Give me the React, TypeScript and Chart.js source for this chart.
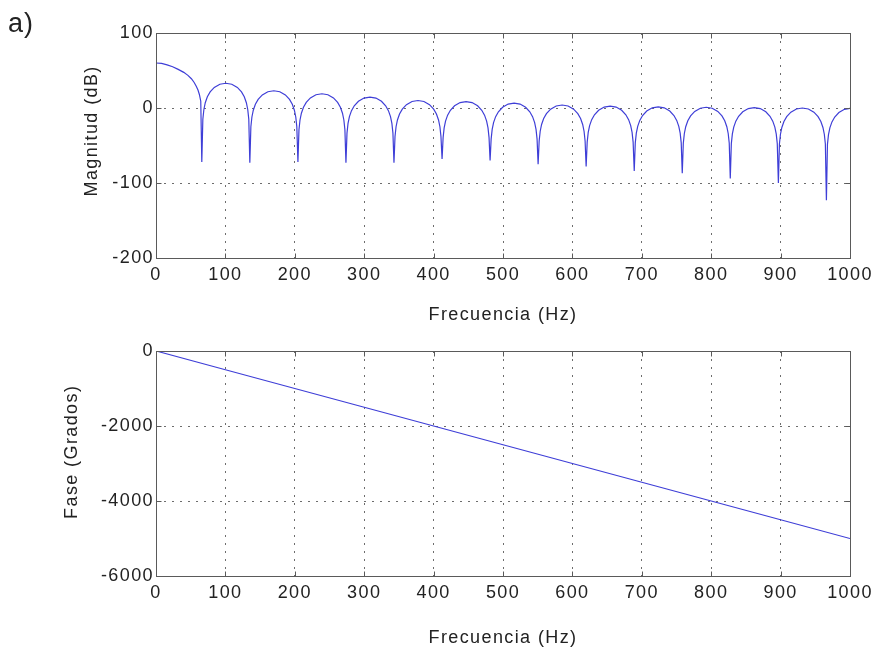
import { useEffect, useRef } from "react";
import { Chart, registerables } from "chart.js";

Chart.register(...registerables);

// ---------- data ----------
const freqTickStepHz = 100;
const freqRangeHz = [0, 1000];
const magRangeDb = [-200, 100];
const magTickStepDb = 100;
const phaseRangeDeg = [-6000, 0];
const phaseTickStepDeg = 2000;

const magFreqHz = [
  0, 8, 16, 24, 32, 40, 46, 51, 55, 58, 60.5, 62.5, 64.5, 66,
  67.5, 69, 71, 74, 78, 84, 92, 100.6, 109.2, 117.2, 123.2, 127.2, 130.2, 132.2, 133.7, 135.2,
  136.7, 138.2, 140.2, 143.2, 147.2, 153.2, 161.2, 169.8, 178.4, 186.4, 192.4, 196.4, 199.4, 201.4, 202.9, 204.5,
  206, 207.5, 209.5, 212.5, 216.5, 222.5, 230.5, 239.1, 247.7, 255.7, 261.7, 265.7, 268.7, 270.7, 272.2, 273.7,
  275.2, 276.7, 278.7, 281.7, 285.7, 291.7, 299.7, 308.3, 316.9, 324.9, 330.9, 334.9, 337.9, 339.9, 341.4, 342.9,
  344.4, 345.9, 347.9, 350.9, 354.9, 360.9, 368.9, 377.5, 386.1, 394.1, 400.1, 404.1, 407.1, 409.1, 410.6, 412.2,
  413.7, 415.2, 417.2, 420.2, 424.2, 430.2, 438.2, 446.8, 455.4, 463.4, 469.4, 473.4, 476.4, 478.4, 479.9, 481.4,
  482.9, 484.4, 486.4, 489.4, 493.4, 499.4, 507.4, 516, 524.6, 532.6, 538.6, 542.6, 545.6, 547.6, 549.1, 550.6,
  552.1, 553.6, 555.6, 558.6, 562.6, 568.6, 576.6, 585.2, 593.8, 601.8, 607.8, 611.8, 614.8, 616.8, 618.3, 619.8,
  621.3, 622.8, 624.8, 627.8, 631.8, 637.8, 645.8, 654.4, 663, 671, 677, 681, 684, 686, 687.5, 689.1,
  690.6, 692.1, 694.1, 697.1, 701.1, 707.1, 715.1, 723.7, 732.3, 740.3, 746.3, 750.3, 753.3, 755.3, 756.8, 758.3,
  759.8, 761.3, 763.3, 766.3, 770.3, 776.3, 784.3, 792.9, 801.5, 809.5, 815.5, 819.5, 822.5, 824.5, 826, 827.5,
  829, 830.5, 832.5, 835.5, 839.5, 845.5, 853.5, 862.1, 870.7, 878.7, 884.7, 888.7, 891.7, 893.7, 895.2, 896.8,
  898.3, 899.8, 901.8, 904.8, 908.8, 914.8, 922.8, 931.4, 940, 948, 954, 958, 961, 963, 964.5, 966,
  967.5, 969, 971, 974, 978, 984, 992, 1000,
];

const magDb = [
  60, 59.5, 57.5, 55, 51.5, 47.5, 43.5, 39, 34, 29, 24, 18, 9, -72,
  -15, -2, 7, 15, 21.5, 27.5, 31.7, 33, 31.7, 27.5, 21.5, 15, 7, -2, -15, -73,
  -25, -12, -3, 5, 11.5, 17.5, 21.7, 23, 21.7, 17.5, 11.5, 5, -3, -12, -25, -72,
  -29, -16, -7, 1, 7.5, 13.5, 17.7, 19, 17.7, 13.5, 7.5, 1, -7, -16, -29, -73,
  -33.5, -20.5, -11.5, -3.5, 3, 9, 13.2, 14.5, 13.2, 9, 3, -3.5, -11.5, -20.5, -33.5, -73,
  -38, -25, -16, -8, -1.5, 4.5, 8.7, 10, 8.7, 4.5, -1.5, -8, -16, -25, -38, -68,
  -39.5, -26.5, -17.5, -9.5, -3, 3, 7.2, 8.5, 7.2, 3, -3, -9.5, -17.5, -26.5, -39.5, -70,
  -41.5, -28.5, -19.5, -11.5, -5, 1, 5.2, 6.5, 5.2, 1, -5, -11.5, -19.5, -28.5, -41.5, -75,
  -44, -31, -22, -14, -7.5, -1.5, 2.7, 4, 2.7, -1.5, -7.5, -14, -22, -31, -44, -78,
  -45.5, -32.5, -23.5, -15.5, -9, -3, 1.2, 2.5, 1.2, -3, -9, -15.5, -23.5, -32.5, -45.5, -84,
  -46.5, -33.5, -24.5, -16.5, -10, -4, 0.2, 1.5, 0.2, -4, -10, -16.5, -24.5, -33.5, -46.5, -87,
  -47, -34, -25, -17, -10.5, -4.5, -0.3, 1, -0.3, -4.5, -10.5, -17, -25, -34, -47, -94,
  -47.5, -34.5, -25.5, -17.5, -11, -5, -0.8, 0.5, -0.8, -5, -11, -17.5, -25.5, -34.5, -47.5, -100,
  -48, -35, -26, -18, -11.5, -5.5, -1.3, 0, -1.3, -5.5, -11.5, -18, -26, -35, -48, -123,
  -48.5, -35.5, -26.5, -18.5, -12, -6, -1.8, -0.5,
];

const phaseFreqHz = [0, 100, 200, 300, 400, 500, 600, 700, 800, 900, 1000];
const phaseDeg = [0, -500, -1000, -1500, -2000, -2500, -3000, -3500, -4000, -4500, -5000];

const xTitle = "Frecuencia (Hz)";
const magTitle = "Magnitud (dB)";
const phaseTitle = "Fase (Grados)";
const panelLabel = "a)";

// ---------- style ----------
const FONT = "'Liberation Sans', Arial, Helvetica, sans-serif";
const FONT_SIZE = 18;
const LETTER_SPACING = "1.4px";
const TEXT = "#222222";
const AXIS = "#5a5a5a";
const GRID = "rgba(60,60,60,0.75)";
const LINE = "rgb(62,62,215)";
const TICK_LEN = 5;

function setSpacing(chart: any) {
  try {
    chart.ctx.letterSpacing = LETTER_SPACING;
  } catch (e) {}
}

function makeDecor(yTitle: string, titleOffsetX: number, titleFracY: number, corner?: string) {
  return {
    id: "decor",
    afterInit: setSpacing,
    beforeUpdate: setSpacing,
    beforeDraw: setSpacing,
    afterDraw(chart: any) {
      const { ctx, chartArea: a, scales } = chart;
      ctx.save();
      ctx.setLineDash([]);
      ctx.strokeStyle = AXIS;
      ctx.lineWidth = 1;
      const L = Math.round(a.left) + 0.5;
      const R = Math.round(a.right) + 0.5;
      const T = Math.round(a.top) + 0.5;
      const B = Math.round(a.bottom) + 0.5;
      ctx.beginPath();
      for (const t of scales.x.ticks) {
        const px = Math.round(scales.x.getPixelForValue(t.value)) + 0.5;
        ctx.moveTo(px, T);
        ctx.lineTo(px, T + TICK_LEN);
        ctx.moveTo(px, B);
        ctx.lineTo(px, B - TICK_LEN);
      }
      for (const t of scales.y.ticks) {
        const py = Math.round(scales.y.getPixelForValue(t.value)) + 0.5;
        ctx.moveTo(L, py);
        ctx.lineTo(L + TICK_LEN, py);
        ctx.moveTo(R, py);
        ctx.lineTo(R - TICK_LEN, py);
      }
      ctx.stroke();
      ctx.strokeRect(L, T, R - L, B - T);

      ctx.fillStyle = TEXT;
      ctx.font = `${FONT_SIZE}px ${FONT}`;
      ctx.textAlign = "center";
      ctx.textBaseline = "middle";
      ctx.save();
      ctx.translate(a.left - titleOffsetX, a.top + (a.bottom - a.top) * titleFracY);
      ctx.rotate(-Math.PI / 2);
      ctx.fillText(yTitle, 0, 0);
      ctx.restore();

      if (corner) {
        ctx.font = `27px ${FONT}`;
        ctx.textAlign = "left";
        ctx.textBaseline = "alphabetic";
        ctx.letterSpacing = "1px";
        ctx.fillText(corner, 8, 32);
      }
      ctx.restore();
    },
  };
}

function makeConfig(
  xs: number[],
  ys: number[],
  yRange: number[],
  yStep: number,
  padTop: number,
  xAxisHeight: number,
  titlePadBottom: number,
  plugin: any
) {
  const tickFont = { family: FONT, size: FONT_SIZE };
  return {
    type: "line",
    data: {
      datasets: [
        {
          data: xs.map((x, i) => ({ x, y: ys[i] })),
          borderColor: LINE,
          borderWidth: 1.2,
          pointRadius: 0,
          tension: 0,
          fill: false,
        },
      ],
    },
    options: {
      animation: false,
      responsive: false,
      maintainAspectRatio: false,
      layout: { padding: { top: padTop, right: 30, left: 0, bottom: 0 } },
      plugins: { legend: { display: false }, tooltip: { enabled: false } },
      scales: {
        x: {
          type: "linear",
          min: freqRangeHz[0],
          max: freqRangeHz[1],
          afterFit: (s: any) => {
            s.height = xAxisHeight;
          },
          ticks: {
            stepSize: freqTickStepHz,
            padding: 6,
            color: TEXT,
            font: tickFont,
            maxRotation: 0,
            autoSkip: false,
            callback: (v: any) => String(v),
          },
          grid: { color: GRID, lineWidth: 1, drawTicks: false },
          border: { display: false, dash: [2, 6] },
          title: {
            display: true,
            text: xTitle,
            color: TEXT,
            font: tickFont,
            padding: { top: 0, bottom: titlePadBottom },
          },
        },
        y: {
          type: "linear",
          min: yRange[0],
          max: yRange[1],
          afterFit: (s: any) => {
            s.width = 156;
          },
          ticks: {
            stepSize: yStep,
            padding: 2,
            color: TEXT,
            font: tickFont,
            callback: (v: any) => String(v),
          },
          grid: { color: GRID, lineWidth: 1, drawTicks: false },
          border: { display: false, dash: [2, 6] },
        },
      },
    },
    plugins: [plugin],
  };
}

export default function App() {
  const topRef = useRef<HTMLCanvasElement | null>(null);
  const botRef = useRef<HTMLCanvasElement | null>(null);

  useEffect(() => {
    const top = new Chart(
      topRef.current as HTMLCanvasElement,
      makeConfig(magFreqHz, magDb, magRangeDb, magTickStepDb, 33, 72, 4.5, makeDecor(magTitle, 64, 0.435, panelLabel)) as any
    );
    const bot = new Chart(
      botRef.current as HTMLCanvasElement,
      makeConfig(phaseFreqHz, phaseDeg, phaseRangeDeg, phaseTickStepDeg, 21, 80, 7, makeDecor(phaseTitle, 84, 0.448)) as any
    );
    return () => {
      top.destroy();
      bot.destroy();
    };
  }, []);

  return (
    <div
      style={{
        position: "fixed",
        left: 0,
        top: 0,
        width: 880,
        height: 656,
        background: "#ffffff",
        overflow: "hidden",
      }}
    >
      <canvas
        ref={topRef}
        width={880}
        height={330}
        style={{ position: "absolute", left: 0, top: 0, width: 880, height: 330 }}
      />
      <canvas
        ref={botRef}
        width={880}
        height={326}
        style={{ position: "absolute", left: 0, top: 330, width: 880, height: 326 }}
      />
    </div>
  );
}
